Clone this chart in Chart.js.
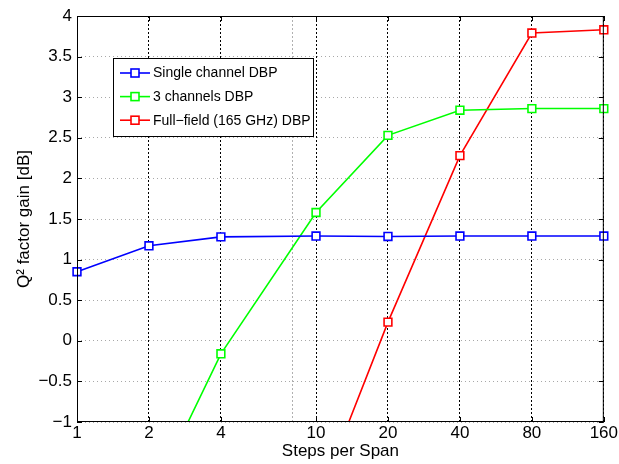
<!DOCTYPE html>
<html>
<head>
<meta charset="utf-8">
<script src="https://cdn.jsdelivr.net/npm/chart.js@4.4.0/dist/chart.umd.min.js"></script>
<style>
    html, body { margin: 0; padding: 0; background: #fff; }
    #caixa { width: 619px; height: 464px; }
</style>
</head>
<body>
<div id="caixa"><canvas id="grafico_q2"></canvas></div>
<script>
// passos por vão (eixo x em escala log)
const passos = [1, 2, 4, 10, 20, 40, 80, 160];
const ticksX = [1, 2, 4, 8, 10, 20, 40, 80, 160];
const ticksY = [-1, -0.5, 0, 0.5, 1, 1.5, 2, 2.5, 3, 3.5, 4];

// ganho do fator Q2 [dB]
const canalUnico = [0.85, 1.17, 1.28, 1.29, 1.285, 1.29, 1.29, 1.29];
const tresCanais = [null, -2.0, -0.16, 1.58, 2.53, 2.84, 2.86, 2.86];
const campoTotal = [null, null, null, -2.03, 0.23, 2.28, 3.79, 3.83];

const nomes = ['Single channel DBP', '3 channels DBP', 'Full\u2212field (165 GHz) DBP'];
const cores = ['#0000ff', '#00ff00', '#ff0000'];
const fonte = 'Liberation Sans, Arial, Helvetica, sans-serif';

function montarSerie(valores, i) {
    return {
        label: nomes[i],
        data: passos.map((x, k) => ({ x: x, y: valores[k] })),
        borderColor: cores[i],
        backgroundColor: cores[i],
        borderWidth: 1.6,
        pointStyle: 'rect',
        pointRadius: 5.5,
        pointHoverRadius: 5.5,
        pointBorderWidth: 1.6,
        pointBackgroundColor: '#ffffff',
        pointBorderColor: cores[i],
        tension: 0,
        spanGaps: false,
        clip: { left: 8, top: 8, right: 8, bottom: 0 },
    };
}

// moldura e marcas internas, estilo MATLAB
const moldura = {
    id: 'moldura',
    afterDatasetsDraw(chart) {
        const { ctx, chartArea: a, scales } = chart;
        ctx.save();
        ctx.strokeStyle = '#000';
        ctx.lineWidth = 1;
        ctx.setLineDash([]);
        ctx.strokeRect(a.left + 0.5, a.top + 0.5, a.right - a.left - 1, a.bottom - a.top - 1);
        ctx.beginPath();
        const t = 5;
        ticksY.forEach(v => {
            const y = Math.round(scales.y.getPixelForValue(v)) + 0.5;
            ctx.moveTo(a.left, y); ctx.lineTo(a.left + t, y);
            ctx.moveTo(a.right, y); ctx.lineTo(a.right - t, y);
        });
        passos.forEach(v => {
            const x = Math.round(scales.x.getPixelForValue(v)) + 0.5;
            ctx.moveTo(x, a.bottom); ctx.lineTo(x, a.bottom - t);
            ctx.moveTo(x, a.top); ctx.lineTo(x, a.top + t);
        });
        ctx.stroke();
        ctx.restore();
    },
    afterDraw(chart) {
        // legenda dentro da área do gráfico
        const ctx = chart.ctx;
        const x0 = 113, y0 = 58, w = 200, h = 78;
        ctx.save();
        ctx.fillStyle = '#fff';
        ctx.fillRect(x0, y0, w, h);
        ctx.strokeStyle = '#000';
        ctx.lineWidth = 1;
        ctx.strokeRect(x0 + 0.5, y0 + 0.5, w, h);
        ctx.font = '14px ' + fonte;
        ctx.textBaseline = 'middle';
        chart.data.datasets.forEach((ds, i) => {
            const y = y0 + 15 + i * 23.6;
            ctx.strokeStyle = ds.borderColor;
            ctx.lineWidth = 1.6;
            ctx.beginPath();
            ctx.moveTo(x0 + 7, y); ctx.lineTo(x0 + 37, y);
            ctx.stroke();
            ctx.fillStyle = '#fff';
            ctx.fillRect(x0 + 18, y - 4, 8, 8);
            ctx.strokeRect(x0 + 18, y - 4, 8, 8);
            ctx.fillStyle = '#000';
            ctx.fillText(ds.label, x0 + 40, y + 0.5);
        });
        ctx.restore();
    },
};

const canvas_grafico = document.getElementById('grafico_q2');
const ctx = canvas_grafico.getContext('2d');

new Chart(ctx, {
    type: 'line',
    data: {
        datasets: [
            montarSerie(canalUnico, 0),
            montarSerie(tresCanais, 1),
            montarSerie(campoTotal, 2),
        ],
    },
    options: {
        responsive: true,
        maintainAspectRatio: false,
        animation: false,
        events: [],
        layout: { padding: { left: 0, right: 15, top: 16, bottom: 0 } },
        plugins: {
            legend: { display: false },
            tooltip: { enabled: false },
        },
        scales: {
            x: {
                type: 'logarithmic',
                min: 1,
                max: 160,
                afterBuildTicks: (escala) => {
                    escala.ticks = ticksX.map(v => ({ value: v }));
                },
                afterFit: (escala) => { escala.height = 42; },
                ticks: {
                    autoSkip: false,
                    maxRotation: 0,
                    padding: 1,
                    color: '#000',
                    font: { family: fonte, size: 17 },
                    callback: (v) => (v === 8 ? '' : String(v)),
                },
                grid: {
                    drawTicks: false,
                    lineWidth: 1,
                    color: (c) => (c.tick && c.tick.value === 8 ? '#b0b0b0' : '#000000'),
                },
                border: { display: false, dash: [2, 2] },
                title: {
                    display: true,
                    text: 'Steps per Span',
                    color: '#000',
                    font: { family: fonte, size: 17 },
                    padding: { top: 0, bottom: 2 },
                },
            },
            y: {
                type: 'linear',
                min: -1,
                max: 4,
                afterBuildTicks: (escala) => {
                    escala.ticks = ticksY.map(v => ({ value: v }));
                },
                afterFit: (escala) => { escala.width = 77; },
                ticks: {
                    padding: 5,
                    color: '#000',
                    font: { family: fonte, size: 17 },
                    callback: (v) => (v < 0 ? '\u2212' + Math.abs(v) : String(v)),
                },
                grid: {
                    drawTicks: false,
                    lineWidth: 1,
                    color: '#a8a8a8',
                },
                border: { display: false, dash: [1, 3] },
                title: {
                    display: true,
                    text: 'Q\u00B2 factor gain [dB]',
                    color: '#000',
                    font: { family: fonte, size: 17 },
                    padding: { top: 14, bottom: 0 },
                },
            },
        },
    },
    plugins: [moldura],
});
</script>
</body>
</html>
